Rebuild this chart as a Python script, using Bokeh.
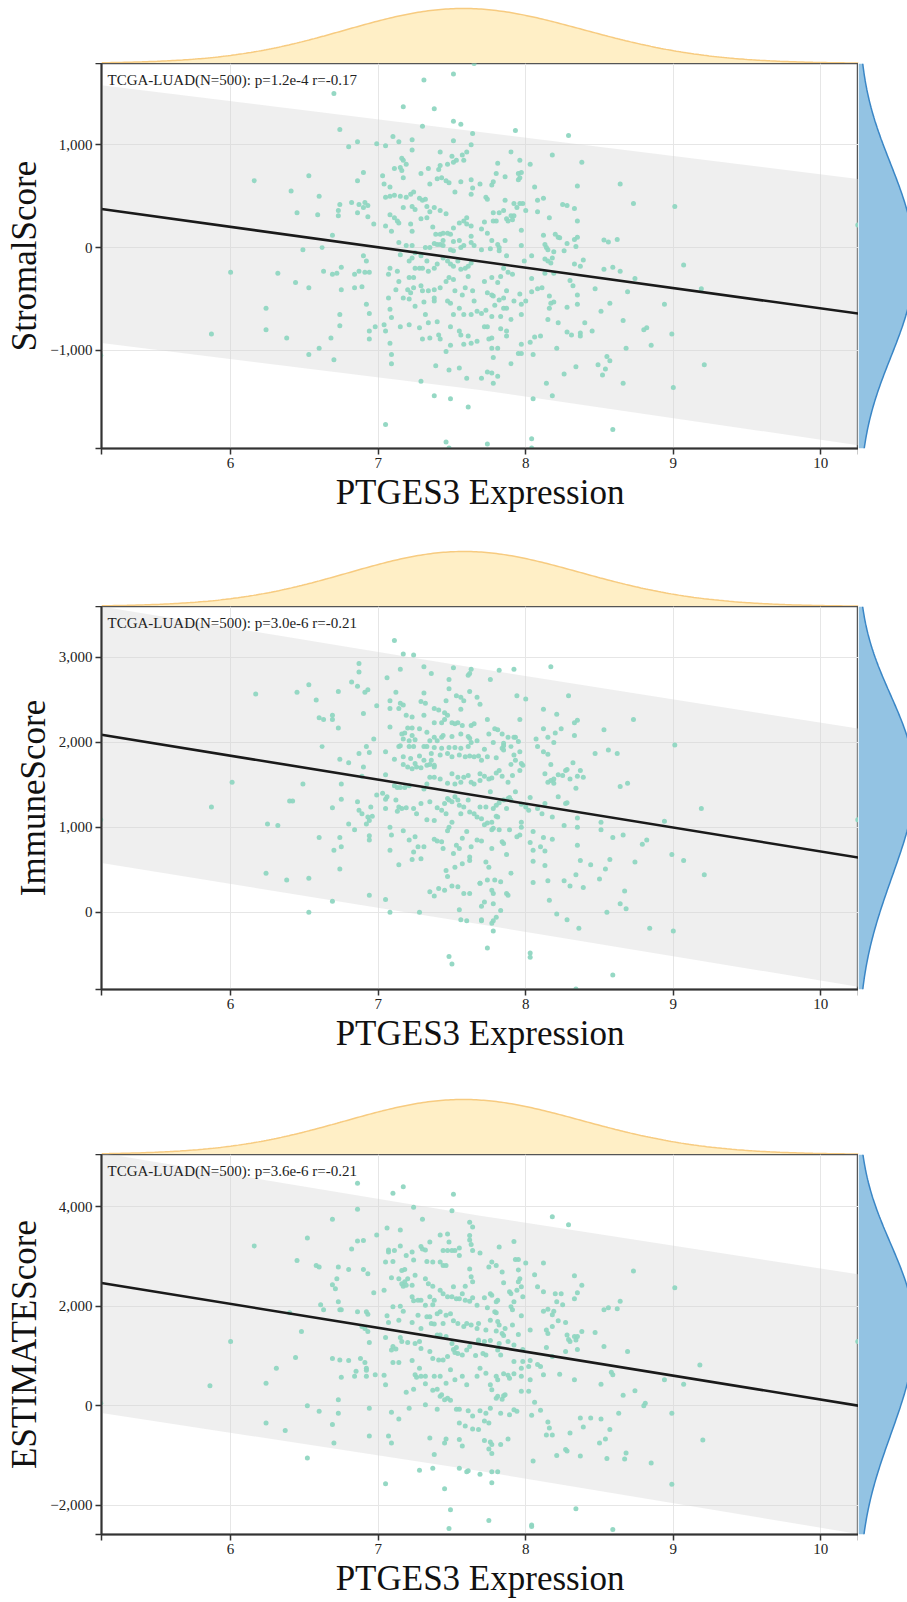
import numpy as np
from bokeh.plotting import figure
from bokeh.layouts import column, row
from bokeh.models import Range1d, FixedTicker, CustomJSTickFormatter, Label
from bokeh.embed import file_html
from bokeh.resources import INLINE

# ---------------- data ----------------
x_label = "PTGES3 Expression"
x_min, x_max = 5.125, 10.255
x_ticks = [6, 7, 8, 9, 10]

# (PTGES3 expression, StromalScore)
stromal_points = [
(7.51,1690),(7.31,1630),(6.70,1500),(7.17,1370),(7.38,1350),(7.51,1230),(7.56,1200),(7.30,1180),(6.74,1150),(7.64,1110),
(6.86,1030),(6.80,980),(6.99,1010),(7.05,990),(7.10,1080),(7.14,1030),(7.23,1050),(7.23,950),(7.51,1040),(7.63,1000),
(7.42,930),(7.50,890),(7.57,900),(7.58,850),(7.60,930),(6.16,650),(6.53,700),(6.41,550),(6.60,500),(6.45,340),
(6.59,320),(6.74,420),(6.73,360),(6.73,310),(6.82,440),(6.87,420),(6.91,440),(6.90,390),(6.93,410),(6.86,340),
(6.93,300),(6.86,650),(6.90,730),(6.97,230),(6.69,120),(6.49,-20),(6.62,0),(7.05,210),(7.08,320),(7.11,290),
(7.13,260),(7.14,240),(7.03,700),(7.04,620),(7.08,590),(7.11,770),(7.16,870),(7.17,850),(7.19,810),(7.15,780),
(7.16,750),(7.17,680),(7.08,500),(7.05,490),(7.11,510),(7.15,500),(7.19,490),(7.22,520),(7.24,540),(7.23,400),
(7.17,390),(7.25,370),(7.29,720),(7.34,770),(7.41,760),(7.42,800),(7.47,810),(7.51,830),(7.53,850),(7.35,620),
(7.40,670),(7.43,680),(7.46,650),(7.48,630),(7.52,540),(7.56,640),(7.63,660),(7.64,580),(7.63,520),(7.28,480),
(7.30,460),(7.32,470),(7.33,400),(7.35,350),(7.38,390),(7.42,360),(7.46,330),(7.09,160),(7.22,230),(7.23,160),
(7.29,280),(7.33,290),(7.37,200),(7.39,130),(7.42,130),(7.44,140),(7.47,140),(7.49,130),(7.51,190),(7.55,240),
(7.58,260),(7.60,230),(7.60,290),(7.63,210),(7.63,110),(7.44,70),(7.51,60),(7.55,70),(7.14,50),(7.19,20),
(7.23,20),(7.25,-50),(7.23,-100),(7.29,-80),(7.32,0),(7.35,0),(7.38,40),(7.40,30),(7.42,30),(7.44,20),
(7.49,-20),(7.51,-30),(7.56,0),(7.58,20),(7.63,50),(7.65,20),(7.15,-70),(7.21,-130),(7.25,-200),(7.28,-200),
(7.30,-200),(7.33,-130),(7.34,-230),(7.38,-200),(7.40,-160),(7.44,-100),(7.47,-130),(7.49,-160),(7.51,-180),(7.54,-130),
(7.56,-210),(7.59,-200),(7.61,-180),(7.63,-150),(6.90,-80),(6.92,-130),(6.87,-230),(6.91,-240),(6.94,-240),(6.84,-260),
(6.75,-190),(6.72,-250),(6.69,-260),(6.63,-230),(6.32,-250),(6.00,-240),(6.44,-340),(6.53,-390),(6.75,-410),(6.84,-390),
(6.89,-380),(7.08,-200),(7.07,-260),(7.13,-230),(7.14,-330),(7.21,-290),(7.24,-290),(7.24,-390),(7.20,-410),(7.22,-440),
(7.29,-370),(7.30,-420),(7.34,-420),(7.38,-410),(7.38,-490),(7.38,-520),(7.42,-390),(7.46,-330),(7.48,-290),(7.51,-310),
(7.52,-420),(7.57,-460),(7.59,-390),(7.61,-280),(7.64,-420),(7.65,-520),(7.07,-490),(7.12,-410),(7.17,-490),(7.21,-500),
(7.25,-570),(7.31,-530),(7.32,-650),(7.34,-730),(7.40,-720),(7.47,-520),(7.49,-540),(7.51,-650),(7.55,-590),(7.58,-650),
(7.63,-650),(7.67,-620),(6.92,-550),(6.94,-640),(6.74,-650),(6.74,-760),(6.94,-810),(6.98,-770),(7.04,-750),(7.05,-810),
(7.08,-600),(7.09,-680),(7.15,-770),(7.21,-750),(7.28,-780),(7.41,-850),(7.49,-770),(7.55,-810),(7.56,-850),(7.61,-860),
(7.67,-910),(6.24,-590),(6.24,-800),(5.87,-840),(6.38,-880),(6.68,-880),(6.94,-890),(7.08,-930),(6.60,-980),(6.53,-1040),
(6.70,-1090),(7.09,-1040),(7.09,-1130),(7.30,-890),(7.35,-880),(7.42,-890),(7.49,-950),(7.46,-1010),(7.58,-940),(7.63,-930),
(7.39,-1150),(7.48,-1190),(7.55,-1170),(7.60,-1270),(7.29,-1300),(7.38,-1440),(7.49,-1470),(7.61,-1550),(7.05,-1720),(7.46,-1890),
(7.48,-1950),(5.12,-1050),(7.65,1790),
(7.93,1140),(8.29,1090),(7.90,930),(7.96,850),(8.03,810),(8.18,900),(8.38,830),(7.81,820),(7.86,690),(7.80,720),
(7.78,640),(7.77,610),(7.69,620),(7.95,720),(7.97,730),(7.96,680),(7.95,660),(8.06,590),(8.35,600),(8.64,620),
(7.73,490),(7.74,470),(7.86,460),(7.92,430),(7.96,430),(7.98,430),(7.94,390),(8.00,360),(8.08,460),(8.12,480),
(8.08,350),(8.16,290),(8.25,420),(8.28,410),(8.33,380),(8.35,260),(8.73,430),(9.01,400),(7.78,340),(7.82,340),
(7.85,360),(7.80,260),(7.78,260),(7.72,250),(7.87,280),(7.88,260),(7.90,310),(7.91,270),(7.92,310),(7.70,180),
(7.74,140),(7.97,170),(7.77,70),(7.81,30),(7.82,0),(7.82,-30),(7.86,70),(7.76,-10),(7.70,-20),(7.87,-80),
(7.97,20),(7.99,-130),(8.04,-80),(8.12,120),(8.13,30),(8.14,0),(8.15,-20),(8.19,-40),(8.20,130),(8.22,100),
(8.23,95),(8.26,-30),(8.28,40),(8.33,80),(8.35,100),(8.34,10),(8.18,-100),(8.13,-110),(8.15,-130),(8.17,-150),
(8.33,-160),(8.37,-180),(8.39,-120),(8.53,75),(8.56,55),(8.62,80),(8.53,-210),(8.59,-190),(8.64,-230),(8.74,-300),
(9.07,-170),(9.19,-400),(7.85,-200),(7.88,-240),(7.91,-260),(8.04,-300),(8.13,-250),(8.19,-250),(8.30,-320),(8.32,-370),
(8.35,-460),(8.47,-400),(8.69,-430),(8.94,-550),(7.77,-290),(7.72,-330),(7.81,-340),(7.83,-280),(7.77,-460),(7.74,-440),
(7.78,-470),(7.82,-510),(7.85,-490),(7.87,-420),(7.96,-450),(7.92,-520),(7.97,-550),(8.00,-520),(8.04,-430),(8.08,-400),
(8.11,-390),(8.16,-470),(8.17,-540),(8.19,-530),(8.16,-590),(7.79,-560),(7.85,-590),(7.87,-590),(7.77,-670),(7.73,-610),
(7.70,-640),(7.83,-670),(7.90,-700),(7.97,-650),(8.28,-580),(8.35,-550),(7.72,-770),(7.74,-770),(7.83,-790),(7.87,-810),
(7.87,-860),(7.77,-880),(7.75,-890),(8.15,-700),(8.22,-730),(8.40,-730),(8.45,-810),(8.51,-620),(8.57,-540),(8.66,-710),
(8.28,-820),(8.31,-850),(8.37,-830),(8.37,-860),(8.80,-800),(8.82,-780),(8.99,-840),(7.77,-980),(7.81,-980),(7.97,-940),
(8.03,-920),(8.06,-870),(8.10,-860),(8.21,-980),(7.97,-1030),(7.95,-1030),(8.05,-1040),(8.68,-980),(8.85,-950),(7.78,-1070),
(7.90,-1130),(8.34,-1160),(8.49,-1140),(8.55,-1060),(8.57,-1100),(8.54,-1180),(8.52,-1240),(9.21,-1140),(7.74,-1210),(7.77,-1220),
(7.81,-1250),(7.70,-1270),(7.78,-1320),(8.26,-1230),(8.14,-1320),(8.66,-1320),(9.00,-1360),(8.05,-1470),(8.18,-1440),(8.59,-1770),
(7.74,-1910),(8.04,-1860),(8.04,-1950),(10.25,220),
]

# (PTGES3 expression, ImmuneScore)
immune_points = [
(7.11,3200),(7.17,3040),(7.24,3030),(6.87,2930),(6.87,2830),(6.82,2710),(6.86,2660),(6.93,2620),(6.91,2590),(7.06,2760),
(7.15,2860),(7.31,2890),(7.36,2810),(7.51,2880),(7.48,2740),(7.63,2860),(7.62,2810),(7.61,2790),(6.17,2570),(6.45,2590),
(6.53,2680),(6.58,2500),(6.73,2600),(6.99,2430),(7.08,2490),(7.08,2400),(7.12,2590),(7.15,2460),(7.17,2440),(7.14,2400),
(7.31,2580),(7.29,2480),(7.32,2460),(7.38,2400),(7.46,2490),(7.48,2630),(7.53,2550),(7.56,2530),(7.62,2600),(7.67,2530),
(6.60,2290),(6.63,2270),(6.69,2320),(6.69,2270),(6.73,2170),(6.90,2340),(7.19,2320),(7.23,2300),(7.20,2170),(7.23,2170),
(7.31,2320),(7.41,2380),(7.45,2350),(7.47,2320),(7.45,2270),(7.56,2390),(7.58,2490),(7.08,2180),(7.38,2230),(7.43,2230),
(7.50,2230),(7.52,2220),(7.54,2230),(7.57,2200),(7.63,2200),(7.65,2220),(7.16,2100),(7.18,2110),(7.17,2040),(7.21,2020),
(7.23,2080),(7.25,2030),(7.28,2160),(7.33,2120),(7.35,2020),(7.38,2060),(7.40,2020),(7.43,2060),(7.44,2080),(7.50,2070),
(7.56,2100),(7.61,2070),(7.62,2050),(7.63,2000),(7.67,2020),(7.14,1950),(7.15,1960),(7.21,1950),(7.24,1950),(7.31,1950),
(7.33,1950),(7.38,1940),(7.43,1930),(7.48,1940),(7.52,1940),(7.56,1930),(7.61,1950),(6.62,1950),(6.92,1950),(6.87,1870),
(6.97,2040),(6.74,1800),(6.80,1760),(6.90,1710),(6.94,1880),(7.05,1890),(7.11,1800),(7.17,1830),(7.22,1810),(7.25,1750),
(7.28,1840),(7.31,1790),(7.36,1870),(7.35,1740),(7.38,1730),(7.42,1850),(7.47,1870),(7.50,1830),(7.55,1850),(7.59,1830),
(7.62,1840),(7.65,1830),(7.70,1790),(7.17,1740),(7.20,1710),(7.23,1690),(7.26,1710),(7.29,1700),(7.33,1730),(7.36,1790),
(7.38,1710),(7.05,1620),(7.11,1490),(7.13,1470),(7.15,1470),(7.18,1470),(7.21,1490),(7.31,1450),(7.33,1510),(7.35,1590),
(7.38,1590),(7.42,1570),(7.47,1520),(7.50,1630),(7.52,1510),(7.54,1590),(7.56,1530),(7.58,1590),(7.61,1610),(7.63,1530),
(7.65,1510),(7.69,1550),(6.01,1530),(6.49,1510),(6.75,1510),(6.89,1600),(6.99,1380),(7.03,1400),(7.05,1330),(7.06,1360),
(5.87,1240),(6.40,1310),(6.42,1310),(6.69,1230),(6.75,1330),(6.86,1300),(6.87,1200),(6.89,1160),(6.93,1120),(6.94,1080),
(6.92,1040),(6.95,1240),(6.96,1130),(7.05,1220),(7.12,1320),(7.13,1190),(7.14,1240),(7.16,1220),(7.19,1230),(7.24,1220),
(7.26,1160),(7.29,1280),(7.33,1090),(7.35,1300),(7.38,1080),(7.40,1230),(7.43,1200),(7.45,1280),(7.46,1160),(7.47,1340),
(7.48,1320),(7.50,1300),(7.52,1360),(7.54,1320),(7.55,1260),(7.56,1160),(7.58,1240),(7.61,1320),(7.62,1180),(7.65,1160),
(7.67,1120),(6.25,1040),(6.32,1020),(6.60,880),(6.74,880),(6.80,1040),(6.84,970),(6.94,900),(6.94,850),(7.08,1000),
(7.09,910),(7.17,960),(7.21,850),(7.24,710),(7.25,890),(7.27,770),(7.31,770),(7.38,860),(7.40,840),(7.43,830),
(7.44,750),(7.47,960),(7.48,1000),(7.50,1060),(7.51,690),(7.53,790),(7.55,750),(7.57,870),(7.60,950),(7.62,650),
(7.67,850),(7.63,770),(6.70,730),(6.75,770),(6.74,510),(7.08,730),(7.14,560),(7.23,620),(7.29,630),(7.46,490),
(7.47,420),(7.52,530),(7.57,570),(7.62,610),(7.69,340),(6.24,460),(6.38,380),(6.53,400),(6.94,200),(7.05,150),
(6.69,130),(6.53,0),(7.08,0),(7.28,0),(7.35,240),(7.38,190),(7.41,280),(7.45,260),(7.50,310),(7.54,300),
(7.58,220),(7.62,220),(7.55,30),(7.56,-90),(7.60,-100),(7.70,-90),(7.48,-520),(7.50,-610),(5.12,1090),
(7.82,2850),(7.92,2860),(8.17,2890),(7.76,2740),(7.94,2550),(8.00,2510),(8.29,2550),(7.69,2450),(7.74,2270),(7.96,2270),
(8.12,2390),(8.21,2330),(8.33,2230),(8.35,2260),(8.73,2270),(8.53,2150),(7.79,2160),(7.81,2150),(7.75,2100),(7.84,2100),
(7.78,2000),(7.88,2060),(7.92,2060),(7.93,2060),(7.95,2010),(7.85,1990),(7.85,1960),(7.84,1930),(7.72,1920),(7.68,1840),
(7.74,1830),(7.80,1820),(7.85,1910),(7.90,1950),(8.07,2040),(8.08,1950),(8.12,2160),(8.15,2060),(8.20,2110),(8.24,2160),
(8.19,2000),(8.12,1890),(8.15,1860),(8.33,2080),(9.01,1970),(8.47,1870),(8.56,1910),(8.62,1870),(7.92,1850),(7.96,1890),
(7.90,1740),(7.93,1790),(7.97,1750),(7.98,1730),(7.96,1670),(7.91,1610),(7.88,1530),(7.82,1670),(7.80,1640),(7.84,1600),
(7.77,1580),(7.75,1570),(7.72,1600),(7.69,1630),(8.17,1740),(8.13,1630),(8.15,1530),(8.17,1550),(8.19,1520),(8.19,1570),
(8.22,1620),(8.25,1610),(8.27,1670),(8.28,1680),(8.32,1760),(8.30,1570),(8.34,1460),(8.37,1670),(8.39,1590),(8.35,1600),
(8.64,1480),(8.69,1520),(7.76,1420),(7.89,1350),(7.93,1420),(7.80,1260),(7.82,1290),(7.85,1320),(7.88,1340),(7.90,1320),
(7.69,1240),(7.73,1240),(7.78,1220),(7.70,1100),(7.72,1030),(7.74,1050),(7.77,1060),(7.80,1130),(7.81,1120),(7.82,970),
(7.77,970),(7.78,990),(7.87,1220),(7.97,1270),(8.00,1240),(8.03,1350),(8.08,1220),(8.02,1200),(8.11,1160),(8.13,1280),
(8.18,1120),(8.22,1360),(8.27,1280),(8.28,1290),(7.97,1060),(7.97,1000),(7.96,910),(7.94,890),(7.89,970),(8.05,950),
(8.12,880),(8.18,860),(8.26,1020),(8.35,1110),(8.35,1000),(8.51,1060),(8.51,970),(8.59,880),(8.66,910),(8.94,1070),
(9.19,1220),(7.77,750),(7.84,830),(7.85,810),(7.87,680),(7.70,840),(8.03,820),(8.05,730),(8.10,770),(8.13,720),
(8.05,600),(8.13,550),(8.35,790),(8.37,610),(8.44,560),(8.54,510),(8.57,620),(8.74,590),(8.79,800),(8.82,850),
(8.99,680),(9.07,610),(9.21,440),(7.73,590),(7.75,530),(7.69,340),(7.74,380),(7.79,380),(7.83,360),(7.90,460),
(7.77,260),(7.78,220),(7.87,220),(7.88,200),(7.72,120),(7.70,70),(7.78,100),(7.83,20),(7.80,-60),(7.78,-100),
(7.77,-130),(7.70,-100),(7.78,-220),(8.05,350),(8.15,370),(8.26,370),(8.30,310),(8.34,440),(8.39,290),(8.50,390),
(8.16,140),(8.21,-20),(8.28,-90),(8.36,-190),(8.55,0),(8.64,100),(8.68,40),(8.67,250),(8.84,-190),(9.00,-220),
(7.74,-420),(8.03,-480),(8.03,-530),(8.59,-740),(8.34,-905),(10.25,1090),
]

# (PTGES3 expression, ESTIMATEScore)
estimate_points = [
(6.86,4470),(7.10,4270),(7.17,4400),(7.51,4250),(7.50,3920),(6.86,3950),(7.24,3990),(7.30,3750),(6.69,3750),(6.52,3370),
(6.16,3210),(6.99,3430),(7.06,3570),(7.15,3530),(6.82,3150),(6.86,3310),(6.90,3320),(7.07,3130),(7.07,3090),(7.11,3120),
(7.15,3210),(7.23,3090),(7.29,3200),(7.30,3150),(7.35,3290),(7.42,3430),(7.47,3450),(7.48,3290),(7.44,3120),(7.47,3120),
(7.50,3120),(7.52,3120),(7.55,3170),(7.62,3420),(7.62,3330),(7.63,3240),(7.64,3120),(7.55,3020),(7.62,3690),(7.64,3590),
(6.45,2920),(6.58,2820),(6.60,2790),(6.73,2790),(6.80,2740),(6.90,2740),(6.93,2650),(7.05,2890),(7.10,2900),(7.19,3020),
(7.24,2930),(7.32,3130),(7.33,2900),(7.37,2890),(7.42,2890),(7.44,2820),(7.46,2820),(7.62,2750),(6.72,2550),(6.69,2430),
(6.71,2350),(6.73,2090),(6.75,1930),(6.97,2270),(7.04,2320),(7.09,2570),(7.14,2550),(7.16,2450),(7.18,2490),(7.17,2400),
(7.19,2420),(7.20,2550),(7.23,2420),(7.25,2620),(7.16,2720),(7.18,2740),(7.32,2550),(7.34,2450),(7.37,2400),(7.42,2320),
(7.44,2250),(7.51,2390),(7.57,2250),(7.59,2400),(7.63,2590),(7.64,2490),(7.10,1990),(7.15,2000),(7.17,1900),(7.06,1810),
(7.14,1720),(7.07,1670),(7.23,2190),(7.24,2110),(7.27,2120),(7.29,2120),(7.35,2190),(7.32,2020),(7.37,2030),(7.38,2120),
(7.42,1890),(7.47,2190),(7.50,2190),(7.53,2150),(7.55,2150),(7.59,2120),(7.62,2100),(7.64,2170),(6.61,2030),(6.63,1930),
(6.74,1930),(6.86,1890),(6.92,1890),(6.93,1840),(6.40,1870),(6.48,1490),(6.89,1590),(6.93,1490),(6.91,1550),(6.94,1270),
(7.05,1370),(7.10,1190),(7.12,1140),(7.09,1120),(7.23,1670),(7.27,1820),(7.29,1550),(7.33,1790),(7.35,1790),(7.36,1650),
(7.38,1640),(7.40,1850),(7.44,1650),(7.46,1820),(7.49,1850),(7.51,1710),(7.54,1650),(7.58,1590),(7.60,1650),(7.63,1620),
(7.67,1550),(7.68,1320),(7.15,1370),(7.16,1290),(7.20,1270),(7.25,1250),(7.29,1150),(7.35,1090),(7.40,1420),(7.42,1420),
(7.46,1390),(7.50,1250),(7.51,1130),(7.52,1070),(7.53,1170),(7.54,1050),(7.57,1020),(7.60,1120),(7.62,1190),(7.66,1010),
(7.47,990),(7.44,920),(7.41,920),(7.37,950),(7.28,1290),(6.44,970),(6.31,750),(6.69,950),(6.74,920),(6.80,910),
(6.88,950),(6.91,870),(6.92,750),(6.92,710),(6.92,590),(6.85,690),(6.98,620),(7.04,610),(7.05,420),(7.10,870),
(7.14,870),(7.23,910),(7.38,590),(7.28,750),(7.25,620),(7.26,570),(7.29,590),(7.32,590),(7.32,440),(7.42,590),
(7.49,720),(7.46,450),(7.52,520),(7.57,590),(7.60,420),(7.67,590),(6.24,450),(6.75,570),(6.84,590),(7.19,270),
(7.24,330),(7.37,310),(7.40,330),(7.42,190),(7.45,120),(7.47,150),(7.49,110),(7.43,220),(5.12,50),(6.52,0),
(6.60,-110),(6.73,120),(6.73,-150),(6.94,-50),(7.09,-130),(7.14,-270),(7.21,-50),(7.32,20),(7.40,-70),(7.53,-70),
(7.55,-70),(7.61,-100),(7.64,-210),(7.55,-350),(7.59,-410),(7.64,-470),(6.24,-350),(6.37,-500),(6.69,-380),(6.70,-750),
(6.94,-610),(7.07,-610),(7.09,-750),(7.35,-650),(7.46,-670),(7.38,-980),(7.57,-810),(7.55,-680),(7.45,-750),(6.52,-1050),
(7.05,-1570),(7.28,-1300),(7.37,-1260),(7.55,-1260),(7.60,-1330),(7.61,-1310),(7.45,-1670),(7.49,-2090),(7.48,-2470),
(5.86,400),(6.00,1290),
(8.18,3800),(8.29,3640),(7.92,3300),(7.82,3190),(7.69,3070),(7.77,2890),(7.80,2820),(7.75,2790),(7.93,2940),(7.95,2940),
(8.00,2870),(7.95,2730),(8.12,2870),(8.06,2630),(8.33,2610),(8.38,2420),(8.73,2710),(7.84,2690),(7.85,2470),(7.89,2290),
(7.90,2250),(7.95,2490),(7.96,2550),(7.97,2390),(7.94,2320),(7.98,2190),(7.76,2250),(7.77,2220),(7.81,2120),(7.80,2090),
(7.72,2170),(7.67,2020),(8.08,2390),(8.12,2290),(8.20,2250),(8.24,2250),(8.21,2090),(8.25,2030),(8.35,2270),(8.33,2150),
(9.01,2370),(8.64,2100),(8.62,1950),(8.53,1930),(8.56,1970),(7.90,1990),(7.91,1930),(7.92,2090),(7.97,1810),(7.74,1970),
(7.79,1890),(7.80,1870),(7.76,1720),(8.12,1900),(8.15,1940),(8.18,1830),(8.19,1900),(8.22,1710),(8.27,1670),(8.03,1520),
(7.81,1690),(7.82,1620),(7.86,1550),(7.91,1620),(7.95,1430),(7.84,1450),(7.85,1410),(7.80,1500),(7.73,1520),(7.68,1650),
(8.15,1450),(8.14,1520),(8.18,1590),(8.28,1420),(8.30,1290),(8.33,1390),(8.35,1390),(8.34,1320),(8.29,1330),(8.38,1490),
(8.47,1470),(8.69,1090),(8.53,1190),(8.35,1130),(8.27,1090),(7.68,1290),(7.72,1290),(7.76,1310),(7.82,1250),(7.88,1290),
(7.92,1220),(7.98,1130),(7.81,1120),(7.71,1050),(7.73,1020),(7.83,1020),(7.92,890),(7.98,890),(8.02,790),(8.03,910),
(8.08,830),(8.10,790),(8.12,620),(8.14,1170),(8.18,990),(8.23,630),(8.33,520),(8.51,430),(8.58,670),(8.59,620),
(8.94,520),(9.07,430),(9.18,820),(7.69,750),(7.73,650),(7.80,590),(7.81,520),(7.85,640),(7.88,610),(7.89,550),
(7.92,640),(7.97,750),(7.97,590),(8.03,520),(7.97,290),(8.02,290),(8.06,70),(7.76,420),(7.77,320),(7.86,220),
(7.85,200),(7.84,130),(7.81,190),(7.80,150),(7.76,-50),(7.69,-100),(7.73,-150),(7.75,-350),(7.72,-310),(7.68,-480),
(7.83,-150),(7.89,-180),(7.92,-80),(7.94,-110),(8.04,-190),(8.10,-90),(8.15,-330),(8.16,-450),(8.14,-590),(8.18,-590),
(8.30,-550),(8.37,-250),(8.39,-430),(8.44,-250),(8.51,-270),(8.57,-480),(8.54,-670),(8.50,-750),(8.66,210),(8.74,300),
(8.80,0),(8.81,50),(8.99,-150),(8.63,-150),(9.20,-690),(7.72,-700),(7.76,-730),(7.77,-780),(7.75,-870),(7.77,-960),
(7.83,-780),(7.88,-670),(8.27,-880),(8.28,-910),(8.21,-1000),(8.37,-1010),(8.05,-1110),(8.55,-1060),(8.67,-1070),(8.68,-950),
(8.85,-1150),(7.77,-1330),(7.81,-1330),(7.69,-1380),(7.77,-1550),(8.99,-1580),(8.34,-2070),(7.75,-2310),(8.04,-2400),(8.04,-2430),
(8.59,-2490),(10.25,1290),
]

y_labels = ["StromalScore", "ImmuneScore", "ESTIMATEScore"]
annotations = [
    "TCGA-LUAD(N=500): p=1.2e-4 r=-0.17",
    "TCGA-LUAD(N=500): p=3.0e-6 r=-0.21",
    "TCGA-LUAD(N=500): p=3.6e-6 r=-0.21",
]
stromal_range = (-1954, 1791)
immune_range = (-910, 3600)
estimate_range = (-2590, 5050)
stromal_ticks = [-1000, 0, 1000]
immune_ticks = [0, 1000, 2000, 3000]
estimate_ticks = [-2000, 0, 2000, 4000]

# fitted line (end points) and prediction band
fit_x = [5.125, 10.255]
stromal_fit = [375, -642]
immune_fit = [2090, 643]
estimate_fit = [2467, 0]
band_x = [5.125, 7.69, 10.255]
stromal_band_upper = [1580, 1124, 668]
stromal_band_lower = [-928, -1384, -1922]
immune_band_upper = [3600, 2867, 2161]
immune_band_lower = [580, -143, -878]
estimate_band_upper = [5080, 3820, 2640]
estimate_band_lower = [-147, -1313, -2580]

# ---------------- style ----------------
FONT = "Liberation Serif"
PT_COLOR = "#8fd6c1"
FRAME_W = 757
LEFT_B = 101
RIGHT_W = 49
TOP_H = 63

panels = [
    dict(pts=stromal_points, yr=stromal_range, ticks=stromal_ticks, fit=stromal_fit,
         up=stromal_band_upper, lo=stromal_band_lower, ylab=y_labels[0], note=annotations[0],
         fh=385, bb=95),
    dict(pts=immune_points, yr=immune_range, ticks=immune_ticks, fit=immune_fit,
         up=immune_band_upper, lo=immune_band_lower, ylab=y_labels[1], note=annotations[1],
         fh=383, bb=102),
    dict(pts=estimate_points, yr=estimate_range, ticks=estimate_ticks, fit=estimate_fit,
         up=estimate_band_upper, lo=estimate_band_lower, ylab=y_labels[2], note=annotations[2],
         fh=380, bb=68),
]

Y_FMT = """
const r = Math.round(tick / 1000) * 1000;
if (Math.abs(tick - r) > 1e-6) { return ''; }
const s = Math.abs(r).toString().replace(/\\B(?=(\\d{3})+(?!\\d))/g, ',');
return (r < 0 ? '\\u2212' : '') + s;
"""
X_FMT = """
if (Math.abs(tick - Math.round(tick)) > 1e-6) { return ''; }
return Math.round(tick).toString();
"""


def kde(vals, grid, bw):
    v = np.asarray(vals, dtype=float)[None, :]
    g = np.asarray(grid, dtype=float)[:, None]
    d = np.exp(-0.5 * ((g - v) / bw) ** 2).sum(axis=1)
    return d / d.max()


def block(cfg):
    xs = [p[0] for p in cfg["pts"]]
    ys = [p[1] for p in cfg["pts"]]
    y0, y1 = cfg["yr"]
    fh, bb = cfg["fh"], cfg["bb"]

    m = figure(frame_width=FRAME_W, frame_height=fh,
               x_range=Range1d(x_min, x_max), y_range=Range1d(y0, y1),
               min_border_left=LEFT_B, min_border_right=0, min_border_top=0,
               min_border_bottom=bb, toolbar_location=None, output_backend="svg",
               background_fill_color="white", border_fill_color="white",
               outline_line_color="#555555", outline_line_width=1.5)

    m.xaxis.ticker = FixedTicker(ticks=[x_min] + x_ticks + [x_max])
    m.xaxis.formatter = CustomJSTickFormatter(code=X_FMT)
    m.yaxis.ticker = FixedTicker(ticks=[y0] + cfg["ticks"] + [y1])
    m.yaxis.formatter = CustomJSTickFormatter(code=Y_FMT)
    m.xgrid.ticker = FixedTicker(ticks=x_ticks)
    m.ygrid.ticker = FixedTicker(ticks=cfg["ticks"])
    m.grid.grid_line_color = "#e6e6e6"
    m.grid.grid_line_width = 1

    for ax in (m.xaxis[0], m.yaxis[0]):
        ax.axis_line_color = "#333333"
        ax.axis_line_width = 2
        ax.major_tick_line_color = "#333333"
        ax.major_tick_line_width = 1.5
        ax.major_tick_out = 6
        ax.major_tick_in = 0
        ax.minor_tick_line_color = None
        ax.major_label_text_font = FONT
        ax.major_label_text_font_size = "15px"
        ax.major_label_text_color = "#222222"
        ax.axis_label_text_font = FONT
        ax.axis_label_text_font_size = "35px"
        ax.axis_label_text_font_style = "normal"
        ax.axis_label_text_color = "#111111"
    m.xaxis.axis_label = x_label
    m.yaxis.axis_label = cfg["ylab"]
    m.xaxis.major_label_standoff = 3
    m.xaxis.axis_label_standoff = 2
    m.yaxis.major_label_standoff = 3
    m.yaxis.axis_label_standoff = 3

    m.varea(x=band_x, y1=cfg["lo"], y2=cfg["up"], fill_color="#d6d6d6", fill_alpha=0.38)
    m.scatter(xs, ys, size=5, fill_color=PT_COLOR, line_color=None, fill_alpha=0.95)
    m.line(fit_x, cfg["fit"], line_color="#1a1a1a", line_width=2.6)

    m.add_layout(Label(x=x_min, y=y1, x_offset=6, y_offset=-8, text=cfg["note"],
                       text_baseline="top", text_align="left", text_font=FONT,
                       text_font_size="15px", text_color="#222222"))

    # top marginal density of the expression values
    gx = np.linspace(x_min, x_max, 300)
    dx = kde(xs, gx, 0.6)
    t = figure(frame_width=FRAME_W, frame_height=TOP_H, x_range=m.x_range,
               y_range=Range1d(0, TOP_H / 55.0), x_axis_type=None, y_axis_type=None,
               min_border_left=LEFT_B, min_border_right=RIGHT_W, min_border_top=0,
               min_border_bottom=0, toolbar_location=None, output_backend="svg",
               outline_line_color=None, background_fill_color="white",
               border_fill_color="white")
    t.varea(x=gx, y1=0, y2=dx, fill_color="#ffefc6", fill_alpha=1.0)
    t.line(gx, dx, line_color="#f7cb80", line_width=1.5)

    # right marginal density of the score
    gy = np.linspace(y0, y1, 300)
    dy = kde(ys, gy, 0.75 * float(np.std(ys)))
    r = figure(frame_width=RIGHT_W, frame_height=fh, y_range=m.y_range,
               x_range=Range1d(0, RIGHT_W / 56.0), x_axis_type=None, y_axis_type=None,
               min_border_left=0, min_border_right=0, min_border_top=0,
               min_border_bottom=bb, toolbar_location=None, output_backend="svg",
               outline_line_color=None, background_fill_color="white",
               border_fill_color="white")
    r.harea(y=gy, x1=0, x2=dy, fill_color="#93c3e3", fill_alpha=1.0)
    r.line(dy, gy, line_color="#3a86c6", line_width=1.5)

    return column(t, row(m, r, spacing=0), spacing=0)


layout = column(*[block(c) for c in panels], spacing=0)
open("out.html", "w").write(file_html(layout, INLINE))
